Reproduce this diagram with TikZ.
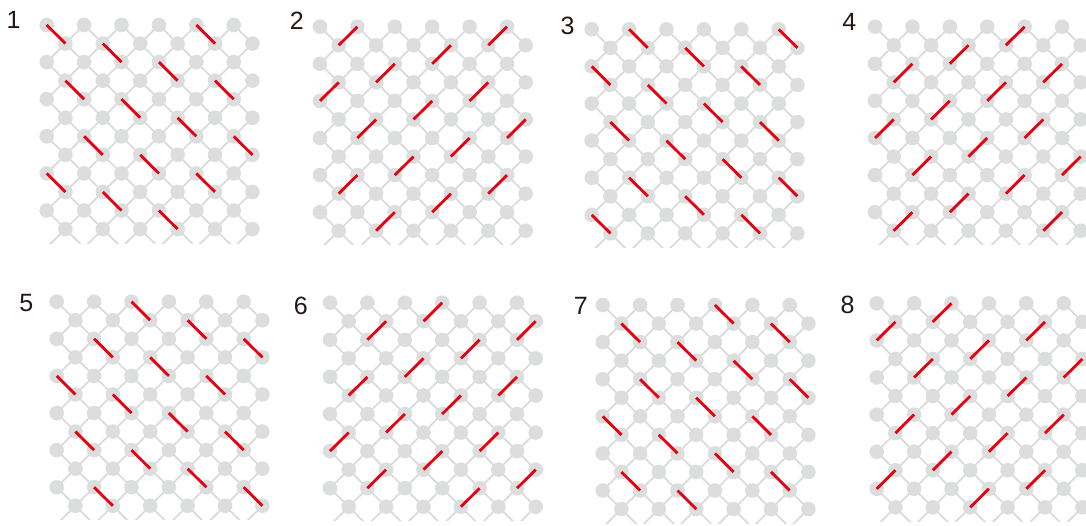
\documentclass[tikz,border=0pt]{standalone}
\usepackage{fontspec}
\setmainfont{Liberation Sans}
\definecolor{dotc}{RGB}{220,221,221}
\definecolor{linec}{RGB}{217,218,218}
\definecolor{redc}{RGB}{230,0,18}
\definecolor{numc}{RGB}{35,24,21}
\tikzset{
  bondline/.style={linec, line width=1.7pt},
  dotfill/.style={fill=dotc},
  redbond/.style={redc, line width=2.8pt},
  numlabel/.style={inner sep=0pt, font=\fontsize{25}{25}\selectfont, text=numc},
}
\newcommand\dx{18.7}
\newcommand\dy{18.55}
\newcommand\latpanel[3]{%
  \begin{scope}
    \clip (#2-9, #3-9) rectangle (#2+11*\dx+9, #3+11*\dy+14);
    \foreach \j in {0,...,12}{
      \foreach \i in {0,...,11}{
        \coordinate (#1-\i-\j) at (#2+\i*\dx, #3+\j*\dy);
      }
    }
    \foreach \j in {0,...,11}{
      \pgfmathtruncatemacro\s{mod(\j,2)}
      \pgfmathtruncatemacro\jn{\j+1}
      \foreach \k in {0,...,5}{
        \pgfmathtruncatemacro\i{2*\k+\s}
        \pgfmathtruncatemacro\im{\i-1}
        \pgfmathtruncatemacro\ip{\i+1}
        \ifnum\i>0 \draw[bondline] (#1-\i-\j) -- (#1-\im-\jn); \fi
        \ifnum\i<11 \draw[bondline] (#1-\i-\j) -- (#1-\ip-\jn); \fi
      }
    }
    \foreach \j in {0,...,11}{
      \pgfmathtruncatemacro\s{mod(\j,2)}
      \foreach \k in {0,...,5}{
        \pgfmathtruncatemacro\i{2*\k+\s}
        \fill[dotfill] (#1-\i-\j) circle[radius=7.3pt];
      }
    }
  \end{scope}
}
\newcommand\rdown[3]{%
  \pgfmathtruncatemacro\ia{#2+1}\pgfmathtruncatemacro\ja{#3+1}%
  \draw[redbond] (#1-#2-#3) -- (#1-\ia-\ja);}
\newcommand\rup[3]{%
  \pgfmathtruncatemacro\ia{#2+1}\pgfmathtruncatemacro\ja{#3-1}%
  \draw[redbond] (#1-#2-#3) -- (#1-\ia-\ja);}
\begin{document}
\begin{tikzpicture}[x=1pt,y=-1pt]
  \fill[white] (0,0) rectangle (1086,525);
  \useasboundingbox (0,0) rectangle (1086,525);
  \clip (0,0) rectangle (1086,525);

  \latpanel{pa}{46.7}{25.0}
  \latpanel{pb}{320.0}{26.7}
  \latpanel{pc}{591.7}{29.3}
  \latpanel{pd}{875.0}{26.7}
  \latpanel{pe}{56.7}{301.7}
  \latpanel{pf}{330.0}{302.7}
  \latpanel{pg}{602.7}{305.0}
  \latpanel{ph}{876.7}{303.3}

  \foreach \a/\b in {0/0,8/0,3/1,6/2,1/3,9/3,4/4,7/5,2/6,10/6,5/7,0/8,8/8,3/9,6/10}{\rdown{pa}{\a}{\b}}
  \foreach \a/\b in {1/1,9/1,6/2,3/3,0/4,8/4,5/5,2/6,10/6,7/7,4/8,1/9,9/9,6/10,3/11}{\rup{pb}{\a}{\b}}
  \foreach \a/\b in {2/0,10/0,5/1,0/2,8/2,3/3,6/4,1/5,9/5,4/6,7/7,2/8,10/8,5/9,0/10,8/10}{\rdown{pc}{\a}{\b}}
  \foreach \a/\b in {7/1,4/2,1/3,9/3,6/4,3/5,0/6,8/6,5/7,2/8,10/8,7/9,4/10,1/11,9/11}{\rup{pd}{\a}{\b}}
  \foreach \a/\b in {4/0,7/1,2/2,10/2,5/3,0/4,8/4,3/5,6/6,1/7,9/7,4/8,7/9,2/10,10/10}{\rdown{pe}{\a}{\b}}
  \foreach \a/\b in {5/1,2/2,10/2,7/3,4/4,1/5,9/5,6/6,3/7,0/8,8/8,5/9,2/10,10/10,7/11}{\rup{pf}{\a}{\b}}
  \foreach \a/\b in {6/0,1/1,9/1,4/2,7/3,2/4,10/4,5/5,0/6,8/6,3/7,6/8,1/9,9/9,4/10}{\rdown{pg}{\a}{\b}}
  \foreach \a/\b in {3/1,0/2,8/2,5/3,2/4,10/4,7/5,4/6,1/7,9/7,6/8,3/9,0/10,8/10,5/11}{\rup{ph}{\a}{\b}}

  \node[numlabel] (la) at (13.5,20.3) {1};
  \node[numlabel] (lb) at (296.7,20.5) {2};
  \node[numlabel] (lc) at (567.5,25.8) {3};
  \node[numlabel] (ld) at (849.2,22.0) {4};
  \node[numlabel] (le) at (26.3,303.5) {5};
  \node[numlabel] (lf) at (300.8,305.5) {6};
  \node[numlabel] (lg) at (580.8,306.0) {7};
  \node[numlabel] (lh) at (847.5,304.5) {8};
\end{tikzpicture}
\end{document}
